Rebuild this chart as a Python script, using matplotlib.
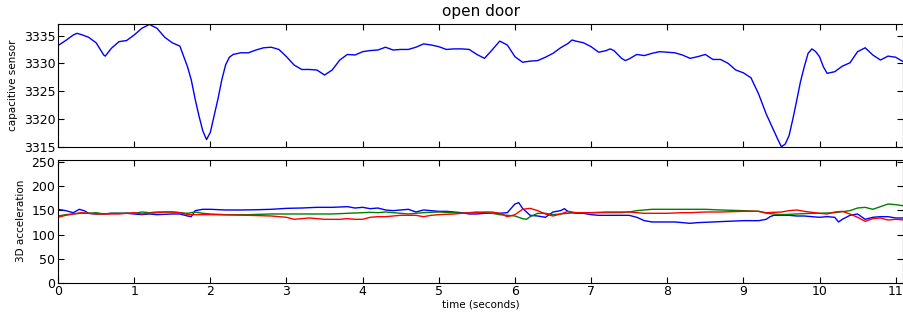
import numpy as np
from matplotlib import pyplot as plt

# capacitive sensor trace (seconds, raw counts)
cap_time = [0.0, 0.1, 0.2, 0.25, 0.3, 0.4, 0.5, 0.6, 0.62, 0.7, 0.8, 0.9, 1.0, 1.1, 1.2, 1.3,
            1.4, 1.5, 1.6, 1.7, 1.75, 1.8, 1.85, 1.9, 1.95, 2.0, 2.05, 2.1, 2.15, 2.2, 2.25,
            2.3, 2.4, 2.5, 2.6, 2.7, 2.8,
            2.9, 3.0, 3.1, 3.2, 3.3, 3.4, 3.5, 3.6, 3.7, 3.8, 3.9, 4.0, 4.1, 4.2, 4.3, 4.4,
            4.5, 4.6, 4.7, 4.8, 4.9, 5.0, 5.1, 5.2, 5.3, 5.4, 5.5, 5.6, 5.7, 5.8, 5.9, 6.0,
            6.1, 6.2, 6.3, 6.4, 6.5, 6.6, 6.7, 6.75, 6.8, 6.9, 7.0, 7.1, 7.2, 7.25, 7.3, 7.4,
            7.45, 7.5, 7.6, 7.7, 7.8, 7.9, 8.0, 8.1, 8.2, 8.3, 8.4, 8.5, 8.6, 8.7, 8.8, 8.9,
            9.0, 9.1, 9.2, 9.25, 9.3, 9.35, 9.4, 9.45, 9.5, 9.55, 9.6, 9.65, 9.7, 9.75, 9.8,
            9.85, 9.9, 9.95, 10.0, 10.05, 10.1, 10.2, 10.3, 10.4,
            10.5, 10.6, 10.7, 10.8, 10.9, 11.0, 11.1]
cap_value = [3333.2, 3334.1, 3335.1, 3335.4, 3335.2, 3334.7, 3333.7, 3331.5, 3331.3, 3332.7,
             3333.9, 3334.1, 3335.1, 3336.3, 3337.0, 3336.3, 3334.7, 3333.7, 3333.1, 3329.4,
             3327.0, 3323.6, 3320.6, 3317.9, 3316.3, 3317.6, 3320.6, 3323.6, 3327.0, 3329.7,
             3331.1, 3331.6, 3331.9, 3331.9, 3332.4,
             3332.8, 3332.9, 3332.5, 3331.2, 3329.7, 3328.9, 3328.9, 3328.8, 3327.9, 3328.8,
             3330.6, 3331.6, 3331.5, 3332.1, 3332.3, 3332.4, 3332.9, 3332.4, 3332.5, 3332.5,
             3332.9, 3333.5, 3333.3, 3333.0, 3332.5, 3332.6, 3332.6, 3332.5, 3331.6, 3330.9,
             3332.4, 3334.0, 3333.3, 3331.2, 3330.2, 3330.4, 3330.5, 3331.1, 3331.8, 3332.8,
             3333.6, 3334.2, 3334.0, 3333.7, 3333.0, 3332.0, 3332.3, 3332.6, 3332.3, 3330.9,
             3330.5, 3330.8, 3331.6, 3331.4, 3331.8, 3332.1, 3332.0, 3331.9, 3331.5, 3330.9,
             3331.2, 3331.6, 3330.7, 3330.7, 3330.0, 3328.8, 3328.3, 3327.4, 3324.5, 3322.7,
             3320.9, 3319.4, 3317.9, 3316.4, 3315.0, 3315.5, 3317.0, 3320.0, 3323.3, 3326.7,
             3329.4, 3331.8, 3332.6, 3332.1, 3331.2, 3329.4, 3328.2, 3328.5, 3329.5,
             3330.1, 3332.1, 3332.8, 3331.5, 3330.6, 3331.3, 3331.1, 3330.3]

# 3D accelerometer, one list per axis
blue_time = [0.0, 0.1, 0.2, 0.28, 0.35, 0.4, 0.5, 0.6, 0.7, 0.8, 0.9, 1.0, 1.1, 1.2, 1.3, 1.4,
             1.5, 1.6, 1.7, 1.75, 1.8, 1.9, 2.0, 2.2, 2.4, 2.6, 2.8, 3.0, 3.2, 3.4, 3.6, 3.8,
             3.9, 4.0, 4.1, 4.2, 4.3, 4.4, 4.5, 4.6, 4.7, 4.8, 4.9, 5.0, 5.1, 5.2, 5.3, 5.4,
             5.5, 5.6, 5.7, 5.8, 5.9, 5.95, 6.0, 6.05, 6.1, 6.2, 6.3, 6.4, 6.5, 6.6, 6.65, 6.7,
             6.8, 6.9, 7.0, 7.1, 7.2, 7.3, 7.4, 7.5, 7.6, 7.7, 7.8, 7.9, 8.0, 8.1, 8.2, 8.3,
             8.4, 8.6, 8.8, 9.0, 9.2, 9.3, 9.35, 9.4, 9.5, 9.6, 9.7, 9.8, 9.9, 10.0, 10.1, 10.2,
             10.25, 10.3, 10.4, 10.5, 10.6, 10.7, 10.8, 10.9, 11.0, 11.12]
blue_value = [152.4, 149.6, 145.4, 152.4, 149.0, 144.1, 142.7, 142.7, 144.1, 144.1, 144.1, 142.7,
              141.3, 142.7, 141.3, 142.0, 142.7, 142.7, 138.5, 137.1, 149.6, 152.4, 152.4, 151.0,
              151.0, 151.5, 152.4, 154.4, 155.1, 156.5, 156.5, 157.9, 155.1, 156.5, 153.7, 155.1,
              151.0, 149.6, 151.0, 152.4, 146.8, 151.0, 149.6, 148.2, 148.2, 146.8, 145.4, 142.7,
              142.7, 144.1, 144.1, 144.1, 145.4, 154.4, 163.4, 166.2, 154.4, 139.9, 138.5, 135.8,
              146.8, 149.6, 153.7, 147.5, 144.1, 144.1, 141.3, 139.9, 139.9, 139.9, 139.9, 139.9,
              135.8, 128.8, 126.1, 126.1, 126.1, 126.1, 124.7, 123.3, 124.7, 126.1, 127.5, 128.8,
              128.8, 131.6, 137.1, 139.9, 139.9, 139.9, 138.5, 138.5, 137.1, 135.8, 137.1, 135.8,
              126.1, 131.6, 139.9, 142.7, 131.6, 135.8, 137.1, 137.1, 134.4, 134.4]

green_time = [0.0, 0.1, 0.2, 0.3, 0.4, 0.5, 0.6, 0.7, 0.8, 0.9, 1.0, 1.1, 1.2, 1.3, 1.4, 1.5,
              1.6, 1.7, 1.8, 1.9, 2.0, 2.2, 2.5, 2.8, 3.0, 3.2, 3.4, 3.6, 3.8, 4.0, 4.1, 4.2,
              4.3, 4.4, 4.5, 4.6, 4.7, 4.8, 5.0, 5.2, 5.3, 5.4, 5.5, 5.6, 5.7, 5.8, 5.9, 6.0,
              6.1, 6.15, 6.2, 6.3, 6.4, 6.5, 6.6, 6.7, 6.8, 7.0, 7.2, 7.4, 7.5, 7.6, 7.7, 7.8,
              8.0, 8.2, 8.5, 8.7, 9.0, 9.2, 9.3, 9.5, 9.7, 9.9, 10.0, 10.2, 10.4, 10.5, 10.6,
              10.7, 10.8, 10.9, 11.0, 11.12]
green_value = [138.5, 141.3, 142.7, 144.1, 144.1, 145.4, 142.7, 144.1, 144.1, 144.1, 144.1, 146.8,
               145.4, 146.8, 146.8, 146.8, 145.4, 144.1, 146.8, 144.1, 142.7, 141.3, 141.3, 142.7,
               142.7, 142.7, 142.7, 142.7, 144.1, 145.4, 146.1, 145.4, 146.8, 145.4, 144.1, 142.7,
               144.1, 145.4, 146.8, 145.4, 144.1, 145.4, 146.8, 145.4, 144.1, 141.3, 139.9, 138.5,
               133.0, 131.6, 137.1, 144.1, 144.1, 141.3, 142.7, 144.1, 145.4, 145.4, 145.4, 145.4,
               146.8, 149.6, 151.0, 152.4, 152.4, 152.4, 152.4, 151.0, 149.6, 148.2, 144.1, 141.3,
               142.7, 144.1, 144.1, 145.4, 149.6, 155.1, 156.5, 152.4, 157.9, 163.4, 162.1, 159.3]

red_time = [0.0, 0.1, 0.2, 0.3, 0.4, 0.5, 0.6, 0.7, 0.8, 0.9, 1.0, 1.1, 1.2, 1.3, 1.4, 1.5,
            1.6, 1.7, 1.8, 1.9, 2.0, 2.5, 2.8, 3.0, 3.1, 3.2, 3.3, 3.4, 3.5, 3.6, 3.7, 3.8,
            3.9, 4.0, 4.1, 4.2, 4.3, 4.4, 4.5, 4.6, 4.7, 4.8, 4.9, 5.0, 5.2, 5.3, 5.4, 5.5,
            5.6, 5.7, 5.8, 5.9, 6.0, 6.1, 6.2, 6.3, 6.4, 6.5, 6.6, 6.7, 6.8, 6.9, 7.0, 7.2,
            7.4, 7.5, 7.6, 7.7, 7.8, 8.0, 8.2, 8.3, 8.5, 8.7, 9.0, 9.2, 9.3, 9.5, 9.6, 9.7,
            9.8, 10.0, 10.1, 10.2, 10.3, 10.4, 10.5, 10.6, 10.7, 10.8, 10.9, 11.0, 11.12]
red_value = [135.8, 139.9, 142.7, 145.4, 144.1, 142.7, 142.7, 142.7, 142.7, 144.1, 145.4, 142.7,
             144.1, 145.4, 146.8, 146.8, 145.4, 141.3, 141.3, 141.3, 141.3, 139.9, 138.5, 135.8,
             131.6, 133.0, 134.4, 133.0, 131.6, 131.6, 131.6, 133.0, 131.6, 131.6, 135.8, 137.1,
             137.1, 138.5, 139.9, 139.9, 139.9, 137.1, 139.9, 141.3, 142.7, 144.1, 145.4, 145.4,
             146.8, 146.8, 144.1, 137.1, 141.3, 152.4, 154.4, 149.6, 142.7, 138.5, 142.7, 148.2,
             145.4, 145.4, 145.4, 146.8, 146.8, 146.8, 145.4, 144.1, 144.1, 144.1, 145.4, 145.4,
             146.8, 146.8, 148.2, 148.2, 145.4, 146.8, 149.6, 151.0, 148.2, 144.1, 142.7, 146.8,
             148.2, 142.7, 135.8, 127.5, 133.0, 134.4, 130.2, 131.6, 130.2]

plt.rcParams['xtick.direction'] = 'in'
plt.rcParams['ytick.direction'] = 'in'
plt.rcParams['xtick.top'] = True
plt.rcParams['ytick.right'] = True
plt.rcParams['xtick.labelsize'] = 9
plt.rcParams['ytick.labelsize'] = 9

fig = plt.figure(figsize=(9.04, 3.13), dpi=100)
ax1 = fig.add_axes([0.0642, 0.531, 0.935, 0.391])
ax2 = fig.add_axes([0.0642, 0.097, 0.935, 0.392], sharex=ax1)

ax1.plot(cap_time, cap_value, color='b', linewidth=1)
ax1.set_ylim(3315, 3337)
ax1.set_yticks([3315, 3320, 3325, 3330, 3335])
ax1.set_ylabel('capacitive sensor', fontsize=7.5)
ax1.set_title('open door', fontsize=11)
plt.setp(ax1.get_xticklabels(), visible=False)

ax2.plot(blue_time, blue_value, color='b', linewidth=1)
ax2.plot(green_time, green_value, color='g', linewidth=1)
ax2.plot(red_time, red_value, color='r', linewidth=1)
ax2.set_ylim(0, 255)
ax2.set_yticks([0, 50, 100, 150, 200, 250])
ax2.set_xlim(0, 11.1)
ax2.set_xticks(range(12))
ax2.set_ylabel('3D acceleration', fontsize=7.5)
ax2.set_xlabel('time (seconds)', fontsize=7.5, labelpad=1)

for ax in (ax1, ax2):
    ax.tick_params(length=4, width=0.8, pad=2)

fig.savefig('out.png', dpi=100)
